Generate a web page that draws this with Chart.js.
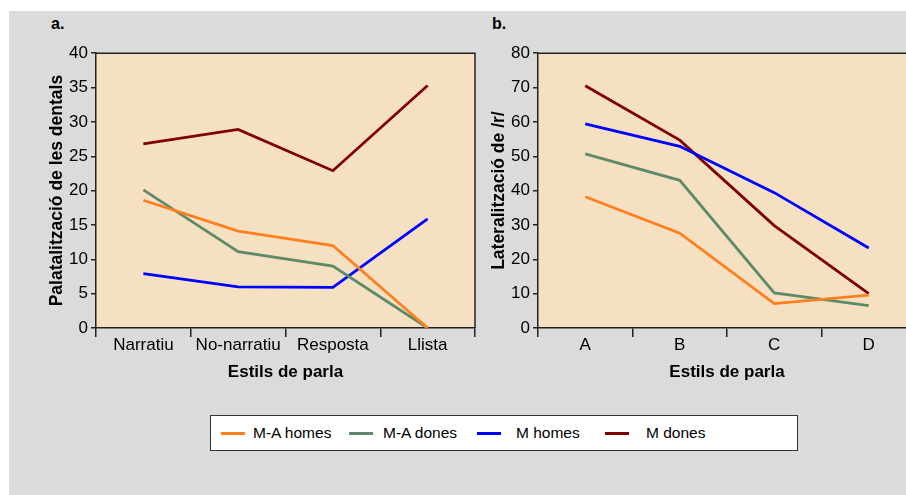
<!DOCTYPE html>
<html>
<head>
<meta charset="utf-8">
<script src="https://cdn.jsdelivr.net/npm/chart.js@4/dist/chart.umd.min.js"></script>
<style>
  html, body { margin: 0; padding: 0; background: #fff; }
  body { width: 906px; height: 495px; overflow: hidden; position: relative; font-family: "Liberation Sans", Arial, sans-serif; }
  #fons { position: absolute; left: 9px; top: 11px; right: 0; bottom: 0; background: #dbdbdb; }
  canvas { position: absolute; }
  .lletra { position: absolute; font-weight: bold; font-size: 16px; color: #000; }
  #llegenda { position: absolute; left: 210px; top: 415px; width: 586px; height: 34px; background: #fff; border: 1px solid #333; }
  .item { position: absolute; top: 0; height: 34px; line-height: 34px; font-size: 15.5px; color: #000; white-space: nowrap; }
  .mostra { position: absolute; top: 16px; width: 24px; height: 3px; }
</style>
</head>
<body>
<div id="fons"></div>
<div class="lletra" style="left:51px; top:15px;">a.</div>
<div class="lletra" style="left:492px; top:15px;">b.</div>
<canvas id="graficA" width="450" height="350" style="left:40px; top:40px;"></canvas>
<canvas id="graficB" width="450" height="350" style="left:482px; top:40px;"></canvas>
<div id="llegenda"></div>

<script>
// dades
const estilsA = ['Narratiu', 'No-narratiu', 'Resposta', 'Llista'];
const estilsB = ['A', 'B', 'C', 'D'];
const grups = ['M-A homes', 'M-A dones', 'M homes', 'M dones'];

// a. Palatalització de les dentals
const palMAhomes = [18.6, 14.1, 12.0, 0];
const palMAdones = [20.1, 11.1, 9.0, 0];
const palMhomes = [7.9, 6.0, 5.9, 15.9];
const palMdones = [26.8, 28.9, 22.9, 35.3];

// b. Lateralització de /r/
const latMAhomes = [38.2, 27.6, 7.1, 9.6];
const latMAdones = [50.7, 43.0, 10.2, 6.5];
const latMhomes = [59.4, 52.9, 39.4, 23.3];
const latMdones = [70.5, 54.7, 29.8, 10.0];

const colors = ['#ff7f1e', '#5e8a6a', '#0000ff', '#800000'];

// fons i marc de l'àrea del gràfic
const marc = {
  id: 'marc',
  beforeDraw(chart) {
    const a = chart.chartArea;
    const ctx = chart.ctx;
    ctx.save();
    ctx.fillStyle = '#f5e1c2';
    ctx.fillRect(a.left, a.top, a.right - a.left, a.bottom - a.top);
    ctx.restore();
  },
  afterDraw(chart) {
    const a = chart.chartArea;
    const ctx = chart.ctx;
    ctx.save();
    ctx.strokeStyle = '#222';
    ctx.lineWidth = 1.5;
    ctx.beginPath();
    ctx.moveTo(a.left, a.top);
    ctx.lineTo(a.right, a.top);
    ctx.lineTo(a.right, a.bottom);
    ctx.stroke();
    ctx.restore();
  }
};

function ferGrafic(id, labels, series, maxY, step, titolY, padRight) {
  const datasets = series.map((d, i) => ({
    label: grups[i],
    data: d,
    borderColor: colors[i],
    backgroundColor: colors[i],
    borderWidth: 2.8,
    pointRadius: 0,
    tension: 0
  }));
  return new Chart(document.getElementById(id), {
    type: 'line',
    data: { labels, datasets },
    options: {
      responsive: false,
      animation: false,
      layout: { padding: { left: 0, top: 12, right: padRight, bottom: 0 } },
      plugins: { legend: { display: false }, tooltip: { enabled: false } },
      scales: {
        x: {
          offset: true,
          grid: { offset: true, drawOnChartArea: false, drawTicks: true, tickLength: 9, color: '#222', lineWidth: 1.5 },
          border: { color: '#222', width: 1.5 },
          ticks: { color: '#000', font: { family: 'Liberation Sans', size: 17 }, padding: -2, maxRotation: 0 },
          title: { display: true, text: 'Estils de parla', color: '#000', font: { family: 'Liberation Sans', size: 17, weight: 'bold' }, padding: { top: 0, bottom: 7 } },
          afterFit: s => { s.height = 62; }
        },
        y: {
          min: 0,
          max: maxY,
          ticks: { stepSize: step, color: '#000', font: { family: 'Liberation Sans', size: 17 }, padding: 3 },
          grid: { drawOnChartArea: false, drawTicks: true, tickLength: 5, color: '#222', lineWidth: 1.5 },
          border: { color: '#222', width: 1.5 },
          title: { display: true, text: titolY, color: '#000', font: { family: 'Liberation Sans', size: 17.5, weight: 'bold' }, padding: { top: 7, bottom: 0 } },
          afterFit: s => { s.width = 56; }
        }
      }
    },
    plugins: [marc]
  });
}

ferGrafic('graficA', estilsA, [palMAhomes, palMAdones, palMhomes, palMdones], 40, 5, 'Palatalització de les dentals', 15);
ferGrafic('graficB', estilsB, [latMAhomes, latMAdones, latMhomes, latMdones], 80, 10, 'Lateralització de /r/', 16);

// llegenda
const llegenda = document.getElementById('llegenda');
const posMostra = [10, 138, 266, 394];
const posText = [42, 172, 305, 435];
grups.forEach((g, i) => {
  const m = document.createElement('div');
  m.className = 'mostra';
  m.style.left = posMostra[i] + 'px';
  m.style.background = colors[i];
  llegenda.appendChild(m);
  const t = document.createElement('div');
  t.className = 'item';
  t.style.left = posText[i] + 'px';
  t.textContent = g;
  llegenda.appendChild(t);
});
</script>
</body>
</html>
